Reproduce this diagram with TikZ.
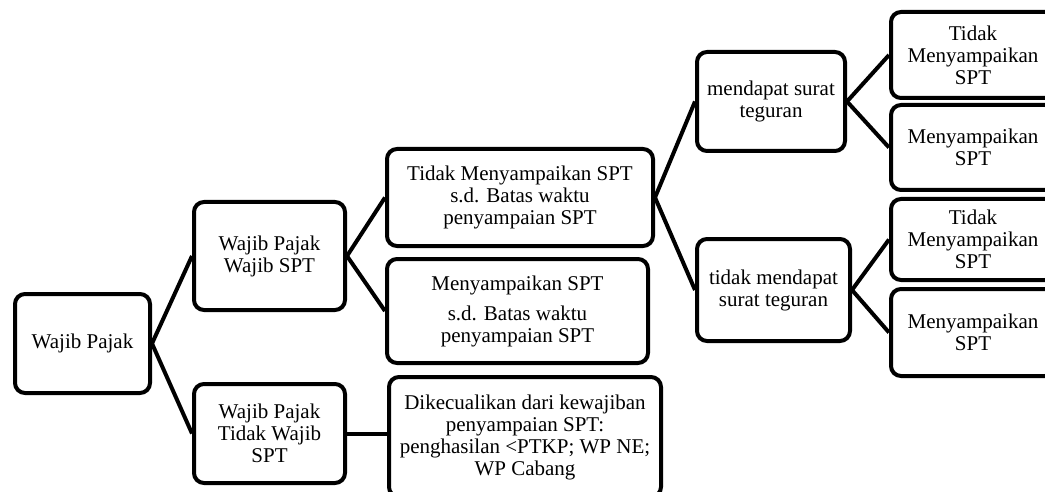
\documentclass[tikz,border=0pt]{standalone}
\usepackage{fontspec}
\setmainfont{Liberation Serif}
\usepackage{tikz}

\begin{document}
\begin{tikzpicture}[x=0.5pt,y=-0.5pt,
			kotak/.style={draw, line width=2pt, rounded corners=5pt, align=center, inner sep=2pt, font=\fontsize{10.5}{11}\selectfont},
			garis/.style={line width=2pt}]
			\useasboundingbox (0,0) rectangle (1045,492);
			\node[kotak, minimum width=67.5pt, minimum height=49.5pt] (wp) at (82.5,343.5) {Wajib Pajak};
			\node[kotak, minimum width=75.5pt, minimum height=54pt] (wpwajib) at (269.5,256) {Wajib Pajak\\Wajib SPT};
			\node[kotak, minimum width=75.5pt, minimum height=49.5pt] (wptidak) at (269.5,433.5) {Wajib Pajak\\Tidak Wajib\\SPT};
			\node[kotak, minimum width=133pt, minimum height=48.5pt] (tidakspt) at (520,197.5) {Tidak Menyampaikan SPT\\s.d. Batas waktu\\penyampaian SPT};
			\node[kotak, minimum width=130.5pt, minimum height=52pt] (spt) at (517.5,311) {Menyampaikan SPT\\[4pt]s.d. Batas waktu\\penyampaian SPT};
			\node[kotak, minimum width=136pt, minimum height=60pt] (kecuali) at (525,437) {Dikecualikan dari kewajiban\\penyampaian SPT:\\penghasilan <PTKP; WP NE;\\WP Cabang};
			\node[kotak, minimum width=74pt, minimum height=49.5pt] (teguran) at (771,101.5) {mendapat surat\\teguran};
			\node[kotak, minimum width=76.5pt, minimum height=51pt] (tanpateguran) at (773.5,290) {tidak mendapat\\surat teguran};
			\node[kotak, minimum width=82pt, minimum height=43pt] (tegurantidak) at (973,55) {Tidak\\Menyampaikan\\SPT};
			\node[kotak, minimum width=82pt, minimum height=42.5pt] (teguranspt) at (973,147.5) {Menyampaikan\\SPT};
			\node[kotak, minimum width=82pt, minimum height=40.5pt] (tanpatidak) at (973,239.5) {Tidak\\Menyampaikan\\SPT};
			\node[kotak, minimum width=82pt, minimum height=43.5pt] (tanpaspt) at (973,332.5) {Menyampaikan\\SPT};
			% garis penghubung
			\draw[garis] (wp.east) -- (wpwajib.west);
			\draw[garis] (wp.east) -- (wptidak.west);
			\draw[garis] (wpwajib.east) -- (tidakspt.west);
			\draw[garis] (wpwajib.east) -- (spt.west);
			\draw[garis] (wptidak.east) -- (kecuali.west |- wptidak.east);
			\draw[garis] (tidakspt.east) -- (teguran.west);
			\draw[garis] (tidakspt.east) -- (tanpateguran.west);
			\draw[garis] (teguran.east) -- (tegurantidak.west);
			\draw[garis] (teguran.east) -- (teguranspt.west);
			\draw[garis] (tanpateguran.east) -- (tanpatidak.west);
			\draw[garis] (tanpateguran.east) -- (tanpaspt.west);
		\end{tikzpicture}
\end{document}
